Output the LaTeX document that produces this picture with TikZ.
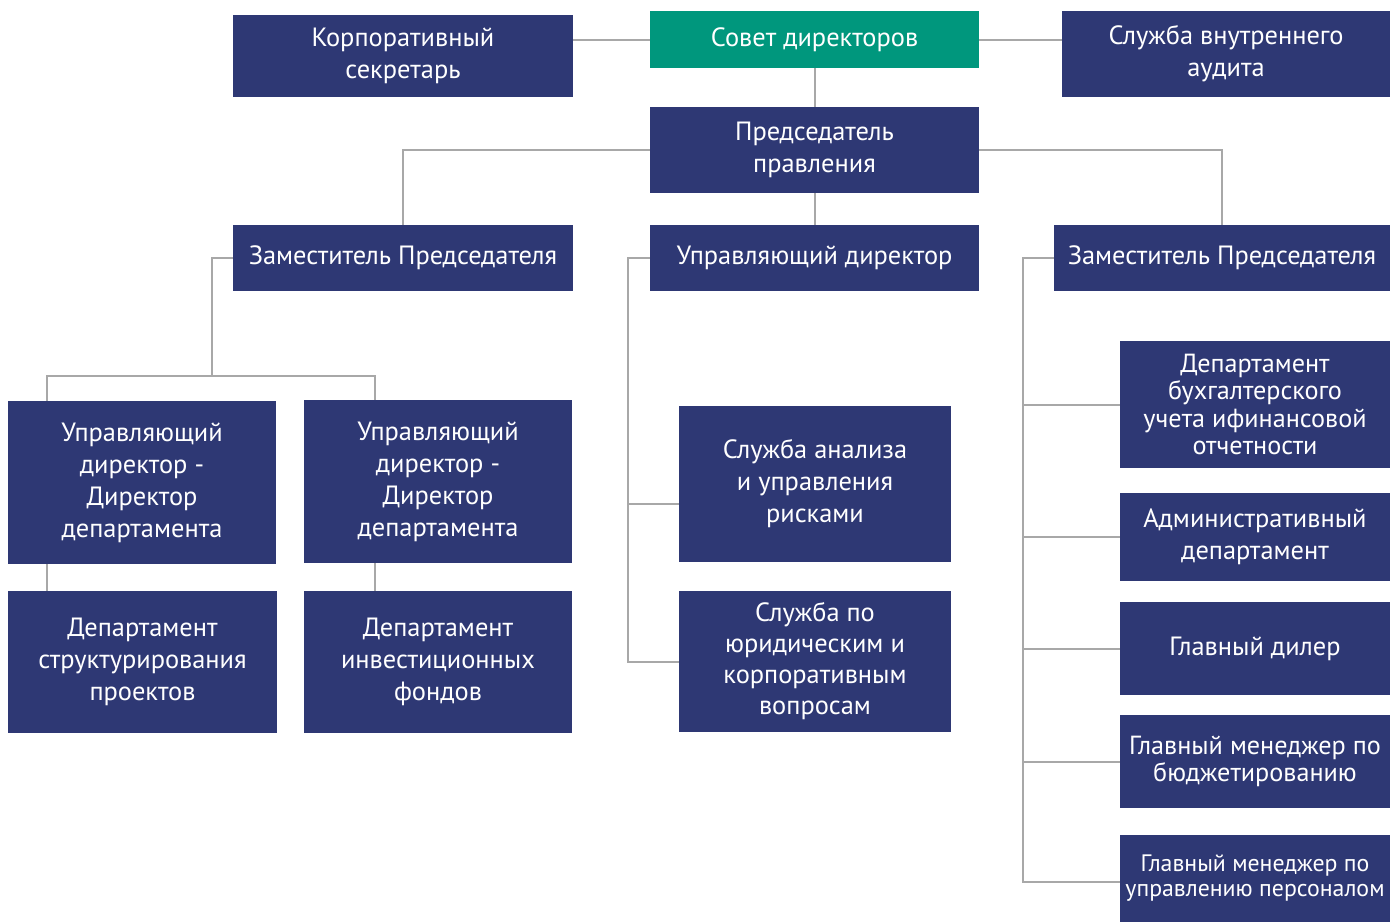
\documentclass[tikz,border=0pt]{standalone}
\usepackage{fontspec}
\setmainfont{PT Sans}
\usepackage{tikz}
\usetikzlibrary{positioning, calc}
\definecolor{orgnavy}{HTML}{2E3874}
\definecolor{orggreen}{HTML}{00977D}
\definecolor{orgline}{HTML}{A8A8A8}

\begin{document}
\begin{tikzpicture}[x=1pt, y=-1pt,
    org/.style={rectangle, fill=orgnavy, text=white, inner sep=0pt, align=center, font=\fontsize{26.4}{32}\selectfont},
    boardbox/.style={org, fill=orggreen},
    small/.style={font=\fontsize{26.2}{27.5}\selectfont},
    link/.style={draw=orgline, line width=2pt}
]
\useasboundingbox (0,0) rectangle (1390,922);

% Top level
\node[boardbox, minimum width=329pt, minimum height=57pt] (board) at (814.5, 39.5) {Совет директоров};
\node[org, minimum width=340pt, minimum height=82pt] (secretary) at (403, 56) {Корпоративный\\секретарь};
\node[org, minimum width=328pt, minimum height=86pt] (audit) at (1226, 54) {Служба внутреннего\\аудита};
\node[org, minimum width=329pt, minimum height=86pt] (chairman) at (814.5, 150) {Председатель\\правления};

% Second level
\node[org, minimum width=340pt, minimum height=66pt] (deputyleft) at (403, 258) {Заместитель Председателя};
\node[org, minimum width=329pt, minimum height=66pt] (managing) at (814.5, 258) {Управляющий директор};
\node[org, minimum width=336pt, minimum height=66pt] (deputyright) at (1222, 258) {Заместитель Председателя};

% Left branch
\node[org, minimum width=268pt, minimum height=163pt] (mdleft) at (142, 482.5) {Управляющий\\директор -\\Директор\\департамента};
\node[org, minimum width=268pt, minimum height=163pt] (mdright) at (438, 481.5) {Управляющий\\директор -\\Директор\\департамента};
\node[org, minimum width=269pt, minimum height=142pt] (structdep) at (142.5, 662) {Департамент\\структурирования\\проектов};
\node[org, minimum width=268pt, minimum height=142pt] (investdep) at (438, 662) {Департамент\\инвестиционных\\фондов};

% Middle branch
\node[org, minimum width=272pt, minimum height=156pt] (risks) at (815, 484) {Служба анализа\\и управления\\рисками};
\node[org, minimum width=272pt, minimum height=141pt, font=\fontsize{26.4}{31}\selectfont] (legal) at (815, 661.5) {Служба по\\юридическим и\\корпоративным\\вопросам};

% Right branch
\node[org, small, minimum width=270pt, minimum height=127pt] (accounting) at (1255, 404.5) {Департамент\\бухгалтерского\\учета ифинансовой\\отчетности};
\node[org, minimum width=270pt, minimum height=88pt] (admin) at (1255, 537) {Административный\\департамент};
\node[org, minimum width=270pt, minimum height=93pt] (dealer) at (1255, 648.5) {Главный дилер};
\node[org, small, minimum width=270pt, minimum height=93pt] (budget) at (1255, 761.5) {Главный менеджер по\\бюджетированию};
\node[org, font=\fontsize{23.8}{25}\selectfont, minimum width=270pt, minimum height=87pt] (personnel) at (1255, 878.5) {Главный менеджер по\\управлению персоналом};

% Bus points
\coordinate (lbus) at (212, 376);
\coordinate (lleg) at (47, 376);
\coordinate (rleg) at (375, 376);
\coordinate (mbus) at (628, 0);
\coordinate (rbus) at (1023, 0);
\coordinate (riskin) at ([yshift=-20pt]risks.west);
\coordinate (staffin) at ([yshift=-3pt]personnel.west);

% Top links
\draw[link] (secretary.east |- board.west) -- (board.west);
\draw[link] (board.east) -- (audit.west |- board.east);
\draw[link] (board.south) -- (chairman.north);
\draw[link] (chairman.west) -| (deputyleft.north);
\draw[link] (chairman.east) -| (deputyright.north);
\draw[link] (chairman.south) -- (managing.north);

% Left links
\draw[link] (deputyleft.west) -| (lbus);
\draw[link] (lleg |- mdleft.north) -- (lleg) -- (rleg) -- (rleg |- mdright.north);
\draw[link] (lleg |- mdleft.south) -- (lleg |- structdep.north);
\draw[link] (rleg |- mdright.south) -- (rleg |- investdep.north);

% Middle links
\draw[link] (managing.west) -| (mbus |- legal.west) -- (legal.west);
\draw[link] (mbus |- riskin) -- (riskin);

% Right links
\draw[link] (deputyright.west) -| (rbus |- staffin) -- (staffin);
\draw[link] (rbus |- accounting.west) -- (accounting.west);
\draw[link] (rbus |- admin.west) -- (admin.west);
\draw[link] (rbus |- dealer.west) -- (dealer.west);
\draw[link] (rbus |- budget.west) -- (budget.west);

\end{tikzpicture}
\end{document}
